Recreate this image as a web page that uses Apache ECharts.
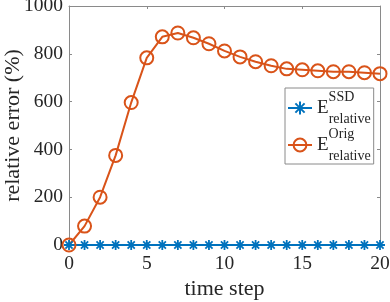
<!DOCTYPE html>
<html>
<head>
<meta charset="utf-8">
<script src="https://cdn.jsdelivr.net/npm/echarts@6/dist/echarts.min.js"></script>
<style>
html,body{margin:0;padding:0;background:#fff;}
#chart{width:390px;height:302px;}
</style>
</head>
<body>
<div id="chart"></div>
<script>
// Data
var timeSteps = [0,1,2,3,4,5,6,7,8,9,10,11,12,13,14,15,16,17,18,19,20];
var errSSD  = [0,0,0,0,0,0,0,0,0,0,0,0,0,0,0,0,0,0,0,0,0];
var errOrig = [0,79,200,375,596,783,871,887,867,842,812,787,767,750,737,733,729,725,725,721,717];
var xTicks = [0,5,10,15,20];
var yTicks = [0,200,400,600,800,1000];
var seriesNames = ['SSD','Orig'];

var FONT = '"Liberation Serif","Times New Roman",serif';
var TXT = '#262626';
var AX = '#8a8a8a';
var BLUE = '#0072BD';
var ORANGE = '#D95319';

function pairs(ys){ return timeSteps.map(function(t,i){ return [t, ys[i]]; }); }

var starPath = 'path://M0,-1L0,1M-1,0L1,0M-0.72,-0.72L0.72,0.72M-0.72,0.72L0.72,-0.72';

var chart = echarts.init(document.getElementById('chart'), null, {renderer:'canvas'});

var xBase = {
  type:'value', min:xTicks[0], max:xTicks[xTicks.length-1], interval:xTicks[1]-xTicks[0],
  splitLine:{show:false},
  axisLine:{show:true, onZero:false, lineStyle:{color:AX, width:1}},
  axisTick:{show:true, inside:true, length:3, lineStyle:{color:AX}}
};
var yBase = {
  type:'value', min:yTicks[0], max:yTicks[yTicks.length-1], interval:yTicks[1]-yTicks[0],
  splitLine:{show:false},
  axisLine:{show:true, onZero:false, lineStyle:{color:AX, width:1}},
  axisTick:{show:true, inside:true, length:3, lineStyle:{color:AX}}
};
function plain(v){ return String(v); }

var option = {
  animation:false,
  backgroundColor:'#fff',
  grid:{left:69, right:10, top:6, bottom:57, containLabel:false, outerBoundsMode:'none'},
  xAxis:[
    Object.assign({}, xBase, {
      position:'bottom',
      name:'time step', nameLocation:'middle', nameGap:33, nameMoveOverlap:false,
      nameTextStyle:{fontFamily:FONT, fontSize:22, color:TXT},
      axisLabel:{show:true, margin:9, fontFamily:FONT, fontSize:19.5, color:TXT, formatter:plain}
    }),
    Object.assign({}, xBase, {position:'top', axisLabel:{show:false}})
  ],
  yAxis:[
    Object.assign({}, yBase, {
      position:'left',
      name:'relative error (%)', nameLocation:'middle', nameGap:45, nameRotate:90, nameMoveOverlap:false,
      nameTextStyle:{fontFamily:FONT, fontSize:22, color:TXT},
      axisLabel:{show:true, margin:6, fontFamily:FONT, fontSize:19.5, color:TXT, formatter:plain}
    }),
    Object.assign({}, yBase, {position:'right', axisLabel:{show:false}})
  ],
  legend:{
    show:true, orient:'vertical', left:285, top:88,
    padding:[2,3,1,2], itemGap:1,
    itemWidth:24, itemHeight:16,
    borderColor:AX, borderWidth:1, backgroundColor:'#fff',
    data:seriesNames,
    formatter:function(name){
      return '{E|E}{sup|' + name + '}{sub|relative}';
    },
    textStyle:{
      fontFamily:FONT, color:TXT,
      rich:{
        E:{fontFamily:FONT, fontSize:19, lineHeight:36, color:TXT},
        sup:{fontFamily:FONT, fontSize:14, lineHeight:18, verticalAlign:'top', width:0.1, color:TXT},
        sub:{fontFamily:FONT, fontSize:14, lineHeight:14, verticalAlign:'bottom', color:TXT}
      }
    }
  },
  series:[
    {
      name:seriesNames[0], type:'line', xAxisIndex:0, yAxisIndex:0,
      data:pairs(errSSD),
      symbol:starPath, symbolSize:10,
      lineStyle:{color:BLUE, width:2},
      itemStyle:{color:'rgba(0,0,0,0)', borderColor:BLUE, borderWidth:1.8},
      emphasis:{disabled:true}
    },
    {
      name:seriesNames[1], type:'line', xAxisIndex:0, yAxisIndex:0,
      data:pairs(errOrig),
      symbol:'circle', symbolSize:13,
      lineStyle:{color:ORANGE, width:2},
      itemStyle:{color:'rgba(0,0,0,0)', borderColor:ORANGE, borderWidth:2},
      emphasis:{disabled:true}
    }
  ]
};
chart.setOption(option);
</script>
</body>
</html>
